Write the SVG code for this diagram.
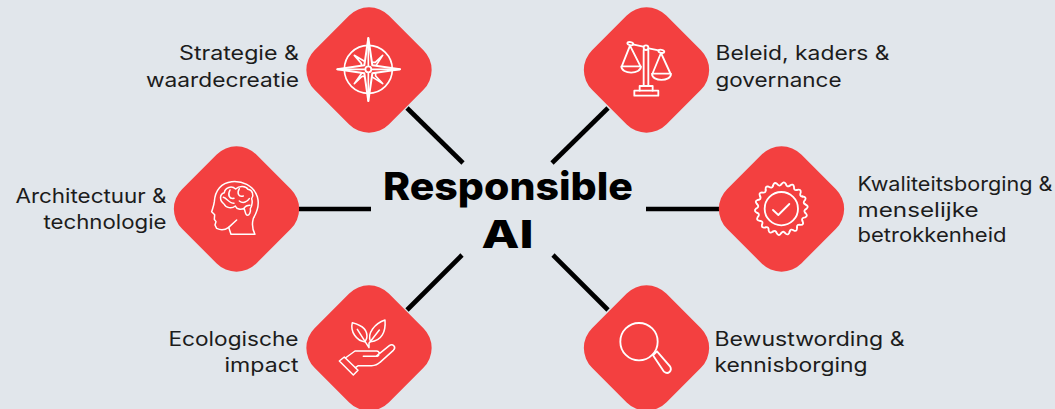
<svg xmlns="http://www.w3.org/2000/svg" xmlns:xlink="http://www.w3.org/1999/xlink" width="1055" height="409" viewBox="0 0 1055 409">
<style>
.bg{fill:#e1e6eb}
.d{fill:#f34040}
.c line{stroke:#000;stroke-width:4.6}
.i{fill:none;stroke:#fff;stroke-width:5.500;stroke-linecap:round;stroke-linejoin:round}
.l{font-family:"Inter","Liberation Sans",sans-serif;font-size:19.5px;fill:#1c1c1c}
.e{text-anchor:end}
.t{font-family:"Inter","Liberation Sans",sans-serif;font-weight:800;font-size:38.5px;fill:#000;text-anchor:middle}
</style>
<defs>
<rect id="dia" class="d" x="-52.5" y="-52.5" width="105" height="105" rx="28" transform="rotate(45)"/>
<path id="wave" d="M72 -12.7Q84 -7.3 76 0Q64.700 5.700 72 12.7"/>
</defs>
<rect class="bg" width="1055" height="409"/>
<g id="connectors" class="c">
<line x1="407" y1="108" x2="463" y2="163"/>
<line x1="608" y1="108" x2="552" y2="163"/>
<line x1="299" y1="209" x2="371" y2="209"/>
<line x1="646" y1="209" x2="719" y2="209"/>
<line x1="462" y1="255" x2="407" y2="310"/>
<line x1="553" y1="255" x2="608" y2="310"/>
</g>
<g id="center">
<text class="t" x="508" y="200" textLength="250" lengthAdjust="spacingAndGlyphs">Responsible</text>
<text class="t" x="507.500" y="248" textLength="52" lengthAdjust="spacingAndGlyphs">AI</text>
</g>
<g id="node-strategie">
<use href="#dia" transform="translate(369 70)"/>
<g class="i" transform="translate(300 0) scale(.3333)">
<circle cx="205" cy="208" r="72" stroke-width="5"/>
<path fill="#f34040" stroke-width="5" d="M163 166L197 186L226 187L248 166L226 200L227 228L248 251L214 229L186 229L163 251L185 220L184 190Z"/>
<path fill="#f34040" stroke-width="6" d="M205 114L217 196L300 208L217 220L205 303L193 220L112 208L193 196Z"/>
<path stroke-width="5" d="M205 114V196M205 220V303M112 208H193M217 208H300"/>
<circle cx="205" cy="208" r="9" fill="#f34040"/>
</g>
<text class="l e" x="299" y="60" textLength="120" lengthAdjust="spacingAndGlyphs">Strategie &amp;</text>
<text class="l e" x="299" y="87" textLength="153" lengthAdjust="spacingAndGlyphs">waardecreatie</text>
</g>
<g id="node-beleid">
<use href="#dia" transform="translate(646.500 70)"/>
<g class="i" transform="translate(580 0) scale(.3333)">
<path d="M158 133L190 140M206 145L236 151"/>
<ellipse cx="151" cy="131" rx="9" ry="4.500" transform="rotate(12 151 131)"/>
<ellipse cx="244" cy="154" rx="9" ry="4.500" transform="rotate(12 244 154)"/>
<circle cx="198" cy="143" r="7"/>
<path d="M191 150V258M205 150V258"/>
<path d="M150 137L125 200M150 137L182 200M124 199H183C183 224 124 224 124 199Z"/>
<path d="M243 159L217 222M243 159L272 222M216 221H273C273 246 216 246 216 221Z"/>
<path d="M179 272V258H218V272"/>
<rect x="163" y="272" width="72" height="15"/>
</g>
<text class="l" x="715.500" y="60" textLength="174" lengthAdjust="spacingAndGlyphs">Beleid, kaders &amp;</text>
<text class="l" x="715.500" y="87" textLength="126" lengthAdjust="spacingAndGlyphs">governance</text>
</g>
<g id="node-architectuur">
<use href="#dia" transform="translate(236.500 209)"/>
<g class="i" transform="translate(170 140) scale(.3333)">
<path stroke-width="4.500" d="M183 283H255C245 265 246 250 250 235C262 215 268 190 262 170C250 135 215 122 185 125C155 128 135 150 133 185C132 195 128 205 125 215L134 224L133 238L138 245L135 255L140 265C150 270 165 270 176 262Z"/>
<path stroke-width="4.500" d="M176 262L200 240"/>
<path stroke-width="4.500" d="M162 192C148 182 148 162 163 158C165 142 185 136 197 147C208 136 228 138 234 148C248 150 252 166 245 176C250 190 242 204 241 206C243 216 238 226 232 226C226 226 226 212 222 205C212 210 200 208 196 198C185 207 168 204 162 192Z"/>
<path stroke-width="4.500" d="M180 150C172 165 178 178 192 175M208 146C200 160 206 172 220 168M160 172C170 174 178 190 192 190M208 183C220 192 232 185 238 176M222 205C226 198 232 196 240 196"/>
</g>
<text class="l e" x="166.500" y="203" textLength="151" lengthAdjust="spacingAndGlyphs">Architectuur &amp;</text>
<text class="l e" x="166.500" y="229" textLength="123" lengthAdjust="spacingAndGlyphs">technologie</text>
</g>
<g id="node-kwaliteit">
<use href="#dia" transform="translate(781.500 209)"/>
<g class="i" transform="translate(715 140) scale(.3333)">
<g transform="translate(199 206)">
<use href="#wave"/><use href="#wave" transform="rotate(20)"/><use href="#wave" transform="rotate(40)"/><use href="#wave" transform="rotate(60)"/><use href="#wave" transform="rotate(80)"/><use href="#wave" transform="rotate(100)"/><use href="#wave" transform="rotate(120)"/><use href="#wave" transform="rotate(140)"/><use href="#wave" transform="rotate(160)"/><use href="#wave" transform="rotate(180)"/><use href="#wave" transform="rotate(200)"/><use href="#wave" transform="rotate(220)"/><use href="#wave" transform="rotate(240)"/><use href="#wave" transform="rotate(260)"/><use href="#wave" transform="rotate(280)"/><use href="#wave" transform="rotate(300)"/><use href="#wave" transform="rotate(320)"/><use href="#wave" transform="rotate(340)"/>
</g>
<circle cx="199" cy="206" r="50"/>
<path d="M174 210L190 225L223 192"/>
</g>
<text class="l" x="857.500" y="191" textLength="195" lengthAdjust="spacingAndGlyphs">Kwaliteitsborging &amp;</text>
<text class="l" x="857.500" y="217" textLength="121" lengthAdjust="spacingAndGlyphs">menselijke</text>
<text class="l" x="857.500" y="242" textLength="149" lengthAdjust="spacingAndGlyphs">betrokkenheid</text>
</g>
<g id="node-ecologie">
<use href="#dia" transform="translate(369 348)"/>
<g class="i" transform="translate(300 275) scale(.3333)">
<path stroke-width="4.500" d="M157 143C185 150 205 165 200 190C198 196 196 198 194 200C170 198 150 170 157 143Z"/>
<path stroke-width="4.500" d="M255 135C258 170 245 198 212 200C200 175 225 145 255 135Z"/>
<path stroke-width="4.500" d="M172 163L207 218V205L238 165"/>
<path stroke-width="4.500" d="M118 258L133 246L174 286L160 300Z"/>
<path stroke-width="4.500" d="M136 249L165 228H230C240 228 240 244 228 244H190M228 244L268 212C278 204 290 216 280 226L240 262C232 270 225 272 215 272H175L166 278"/>
</g>
<text class="l e" x="298.500" y="346" textLength="130" lengthAdjust="spacingAndGlyphs">Ecologische</text>
<text class="l e" x="298.500" y="372" textLength="74" lengthAdjust="spacingAndGlyphs">impact</text>
</g>
<g id="node-bewustwording">
<use href="#dia" transform="translate(646.500 348)"/>
<g class="i" transform="translate(580 275) scale(.3333)">
<circle cx="177" cy="200" r="56"/>
<path d="M219 241L231 229L270 274C278 288 264 300 252 290Z"/>
</g>
<text class="l" x="714.500" y="346" textLength="190" lengthAdjust="spacingAndGlyphs">Bewustwording &amp;</text>
<text class="l" x="714.500" y="372" textLength="153" lengthAdjust="spacingAndGlyphs">kennisborging</text>
</g>
</svg>
